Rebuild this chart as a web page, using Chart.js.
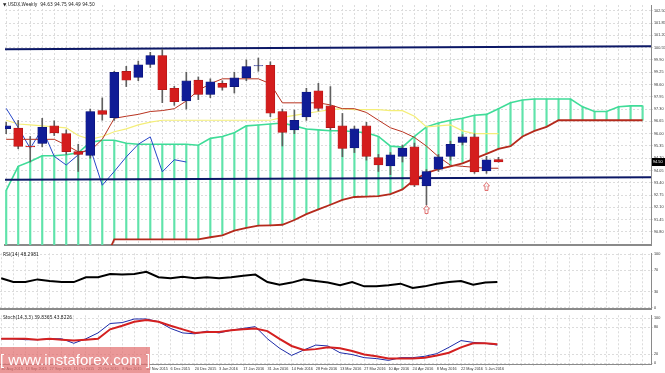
<!DOCTYPE html>
<html>
<head>
<meta charset="utf-8">
<script src="https://cdn.jsdelivr.net/npm/chart.js@4.4.1/dist/chart.umd.min.js"></script>
<style>
  body { margin: 0; background: #fff; width: 665px; height: 373px; overflow: hidden; position: relative; }
  .pane { position: absolute; left: 0; width: 665px; }
  .lbl { position: absolute; left: 3px; font: 8px "DejaVu Sans", sans-serif; color: #222; white-space: nowrap;
         transform: scale(0.55); transform-origin: 0 0; }
  #wm { position: absolute; left: 0; top: 347px; width: 150px; height: 26px; background: rgba(226, 112, 112, 0.72);
        color: #fff; font: 15px "Liberation Sans", sans-serif; line-height: 26px; text-align: center; white-space: nowrap; }
</style>
</head>
<body>
<div class="pane" style="top:0;height:250px"><canvas id="main" width="665" height="250"></canvas></div>
<div class="pane" style="top:250px;height:62px"><canvas id="rsi" width="665" height="62"></canvas></div>
<div class="pane" style="top:312px;height:61px"><canvas id="stoch" width="665" height="61"></canvas></div>
<div class="lbl" style="top:2px">▼ USDX,Weekly&nbsp; 94.63 94.75 94.49 94.50</div>
<div class="lbl" style="top:252px">RSI(14) 48.2981</div>
<div class="lbl" style="top:315px">Stoch(14,3,3) 39.8365 43.8226</div>
<div id="wm">[ www.instaforex.com ]</div>
<script>
// weekly bars, index 0 = week of 30 Aug 2015
const opens  = [96.26, 96.29, 95.33, 95.48, 96.41, 96.00, 95.05, 94.85, 97.22, 96.85, 99.29, 98.98, 99.66, 100.13,
                98.40, 97.73, 98.83, 98.07, 98.66, 98.49, 98.95, 99.58, 99.62, 97.17, 96.20, 96.88, 98.27, 97.47,
                96.41, 95.24, 96.41, 94.73, 94.29, 94.80, 95.30, 93.24, 94.12, 94.80, 95.53, 95.83, 94.03, 94.63];
const highs  = [96.60, 96.70, 95.85, 96.81, 96.68, 96.20, 95.44, 97.30, 97.89, 99.30, 99.56, 99.84, 100.30, 100.47,
                98.50, 99.25, 99.00, 98.90, 98.80, 99.25, 99.90, 100.00, 99.80, 97.30, 97.25, 98.40, 98.66, 98.49,
                97.07, 96.40, 96.60, 94.90, 95.00, 95.40, 95.50, 94.10, 94.90, 95.60, 95.95, 96.00, 94.80, 94.75];
const lows   = [96.00, 95.20, 94.50, 95.30, 95.90, 94.90, 94.00, 94.70, 96.71, 96.70, 98.49, 98.80, 99.50, 97.64,
                97.50, 97.30, 97.80, 97.90, 98.30, 98.15, 98.80, 99.30, 96.90, 95.35, 96.00, 96.70, 97.20, 96.20,
                94.78, 95.00, 94.60, 94.00, 93.83, 94.50, 93.20, 92.23, 94.00, 94.60, 95.40, 93.90, 93.90, 94.49];
const closes = [96.42, 95.33, 95.30, 96.34, 96.04, 95.05, 94.90, 97.17, 97.02, 99.25, 98.83, 99.64, 100.13, 98.32,
                97.69, 98.79, 98.07, 98.74, 98.45, 98.95, 99.55, 99.60, 97.08, 96.07, 96.71, 98.20, 97.34, 96.32,
                95.22, 96.25, 94.80, 94.34, 94.88, 95.24, 93.27, 94.00, 94.77, 95.44, 95.83, 93.98, 94.62, 94.50];

// ichimoku lines
const tenkan = [95.70, 95.70, 95.70, 95.70, 95.70, 95.39, 95.04, 95.09, 95.70, 96.81, 96.92, 97.02, 97.17, 97.22,
                97.32, 97.73, 98.29, 98.64, 98.90, 98.90, 98.90, 98.90, 98.64, 97.63, 97.63, 97.63, 97.63, 97.52,
                97.32, 97.32, 97.12, 96.71, 96.31, 96.10, 95.80, 95.34, 94.78, 94.33, 94.27, 94.22, 94.17, 94.17];
const kijun  = [96.71, 96.51, 96.46, 96.41, 96.36, 96.31, 95.90, 95.70, 95.85, 96.10, 96.25, 96.46, 96.61, 96.71,
                96.71, 96.71, 96.71, 96.71, 96.71, 96.71, 96.71, 96.71, 96.71, 96.86, 96.97, 97.07, 97.17, 97.27,
                97.32, 97.27, 97.27, 97.27, 97.22, 97.22, 96.92, 96.36, 96.41, 96.46, 96.15, 96.00, 96.00, 96.00];
const senkouA = [93.00, 94.27, 94.53, 94.83, 94.83, 94.88, 94.99, 95.54, 95.65, 95.65, 95.49, 95.44, 95.44, 95.44,
                 95.44, 95.44, 95.39, 95.75, 95.85, 96.05, 96.41, 96.46, 96.51, 96.56, 96.41, 96.25, 96.20, 96.15,
                 96.15, 96.10, 96.05, 95.85, 95.34, 95.29, 95.85, 96.36, 96.56, 96.71, 96.81, 96.97, 97.02, 97.32,
                 97.63, 97.78, 97.83, 97.83, 97.83, 97.83, 97.42, 97.17, 97.17, 97.42, 97.47, 97.47];
const senkouB = [89.50, 89.50, 89.50, 89.50, 89.50, 89.50, 89.50, 89.50, 89.00, 90.41, 90.41, 90.41, 90.41, 90.41,
                 90.41, 90.41, 90.41, 90.52, 90.62, 90.87, 91.02, 91.13, 91.15, 91.18, 91.43, 91.74, 91.99, 92.24,
                 92.50, 92.65, 92.67, 92.70, 92.80, 93.05, 93.56, 93.92, 94.12, 94.27, 94.43, 94.68, 94.93, 95.19,
                 95.34, 95.85, 96.15, 96.36, 96.71, 96.71, 96.71, 96.71, 96.71, 96.71, 96.71, 96.71];

// trend lines (value at left edge, value at right edge)
const upperLine = [100.47, 100.62];
const lowerLine = [93.56, 93.69];
// up arrows
const arrowBars = [35, 40];
const arrowPrices = [91.99, 93.21];

const rsi = [55, 48, 48, 53, 50, 48, 48, 57, 57, 63, 62, 63, 67, 57, 55, 58, 55, 57, 55, 57, 60, 62, 48, 43, 47,
             53, 50, 47, 42, 48, 40, 40, 42, 45, 37, 40, 45, 48, 50, 43, 47, 48];
const stochK = [54, 54, 52, 52, 54, 54, 44, 54, 67, 88, 90, 98, 98, 92, 77, 67, 65, 71, 67, 73, 77, 81, 54, 33, 17,
                29, 40, 38, 23, 19, 12, 10, 6, 12, 12, 15, 21, 35, 50, 46, 44, 40];
const stochD = [54, 54, 54, 52, 54, 52, 50, 52, 54, 75, 83, 92, 96, 92, 83, 75, 67, 69, 69, 73, 75, 77, 71, 54, 38,
                29, 31, 35, 33, 27, 19, 15, 10, 10, 10, 12, 17, 23, 35, 44, 44, 42];

const priceTicks = [102.50, 101.85, 101.20, 100.55, 99.90, 99.25, 98.60, 97.95, 97.30, 96.65, 96.00, 95.35, 94.70,
                    94.05, 93.40, 92.75, 92.10, 91.45, 90.80];
const rsiTicks = [100, 70, 30, 0];
const stochTicks = [100, 80, 20, 0];
const dateLabels = ['30 Aug 2015', '13 Sep 2015', '27 Sep 2015', '11 Oct 2015', '25 Oct 2015', '8 Nov 2015',
                    '22 Nov 2015', '6 Dec 2015', '20 Dec 2015', '3 Jan 2016', '17 Jan 2016', '31 Jan 2016',
                    '14 Feb 2016', '28 Feb 2016', '13 Mar 2016', '27 Mar 2016', '10 Apr 2016', '24 Apr 2016',
                    '8 May 2016', '22 May 2016', '5 Jun 2016'];

const xMin = -0.1, xMax = 53.7;
// one grid column per weekly bar, a date label every second bar
const gridBars = [];
for (let i = 0; i <= 53; i++) gridBars.push(i);

const pts = (arr, shift) => arr.map((v, i) => ({ x: i + (shift || 0), y: v }));
const tiny = { size: 3.8, family: 'Liberation Sans' };

function xAxis(showLabels) {
    return {
        type: 'linear', min: xMin, max: xMax, offset: false,
        afterBuildTicks: s => { s.ticks = gridBars.map(v => ({ value: v })); },
        afterFit: s => { s.height = showLabels ? 9 : 0; },
        grid: { color: '#dcdcdc', drawTicks: showLabels, tickLength: 2, offset: false },
        border: { display: true, color: '#8a8a8a', width: showLabels ? 1 : 2, dash: [2, 2] },
        ticks: {
            display: showLabels, align: 'start', maxRotation: 0, autoSkip: false, padding: 1,
            font: tiny, color: '#333',
            callback: v => (v % 2 === 0 && dateLabels[v / 2]) || ''
        }
    };
}

function yAxis(min, max, ticks, fmt) {
    return {
        position: 'right', min: min, max: max,
        afterBuildTicks: s => { s.ticks = ticks.map(v => ({ value: v })); },
        afterFit: s => { s.width = 14; },
        grid: { color: '#dcdcdc', drawTicks: true, tickLength: 2 },
        border: { display: true, color: '#8a8a8a', dash: [2, 2] },
        ticks: { font: tiny, color: '#333', padding: 1, callback: fmt }
    };
}

const baseOpts = {
    responsive: false, animation: false, events: [], devicePixelRatio: 1,
    layout: { padding: 0 },
    plugins: { legend: { display: false }, tooltip: { enabled: false } }
};

// up arrow marker
const arrowImg = document.createElement('canvas');
arrowImg.width = 7; arrowImg.height = 9;
(function () {
    const c = arrowImg.getContext('2d');
    c.strokeStyle = '#e07070'; c.lineWidth = 1;
    c.beginPath();
    c.moveTo(3.5, 0.5); c.lineTo(6.5, 4); c.lineTo(5, 4); c.lineTo(5, 8.5);
    c.lineTo(2, 8.5); c.lineTo(2, 4); c.lineTo(0.5, 4); c.closePath();
    c.stroke();
})();

// current price box on the right axis
const priceBox = {
    id: 'priceBox',
    afterDraw(chart) {
        const last = closes[closes.length - 1];
        const y = chart.scales.y.getPixelForValue(last);
        const ctx = chart.ctx;
        ctx.save();
        ctx.fillStyle = '#000';
        ctx.fillRect(chart.chartArea.right + 1, y - 4, 13, 8);
        ctx.fillStyle = '#fff';
        ctx.font = '3.8px Liberation Sans';
        ctx.textBaseline = 'middle';
        ctx.fillText(last.toFixed(2), chart.chartArea.right + 2, y);
        ctx.restore();
    }
};

const bull = closes.map((c, i) => c >= opens[i]);
const hatch = senkouA.map((a, i) => ({ x: i, y: [a, Math.max(senkouB[i], 88)] }));

new Chart(document.getElementById('main'), {
    type: 'bar',
    data: {
        datasets: [
            { type: 'bar', data: hatch, backgroundColor: '#5fe3aa', barThickness: 1.5, grouped: false, order: 10 },
            { type: 'line', data: pts(senkouA), borderColor: '#3fdc98', borderWidth: 1.6, pointRadius: 0, order: 9 },
            { type: 'line', data: pts(senkouB), borderColor: '#b52a1c', borderWidth: 1.8, pointRadius: 0, order: 9 },
            { type: 'line', data: pts(kijun), borderColor: '#f4ee78', borderWidth: 1.2, pointRadius: 0, order: 6 },
            { type: 'line', data: pts(tenkan), borderColor: '#b8321f', borderWidth: 1, pointRadius: 0, order: 5 },
            { type: 'line', data: pts(closes.slice(26)), borderColor: '#2747c8', borderWidth: 1, pointRadius: 0, order: 5 },
            { type: 'line', data: [{ x: xMin, y: upperLine[0] }, { x: xMax, y: upperLine[1] }],
              borderColor: '#0c1866', borderWidth: 2, pointRadius: 0, order: 4 },
            { type: 'line', data: [{ x: xMin, y: lowerLine[0] }, { x: xMax, y: lowerLine[1] }],
              borderColor: '#0c1866', borderWidth: 2, pointRadius: 0, order: 4 },
            { type: 'bar', data: lows.map((l, i) => ({ x: i, y: [l, highs[i]] })), backgroundColor: '#606060',
              barThickness: 1, grouped: false, order: 2 },
            { type: 'bar', data: opens.map((o, i) => ({ x: i, y: [o, closes[i]] })),
              backgroundColor: bull.map(b => b ? '#101c96' : '#d41d1d'),
              borderColor: bull.map(b => b ? '#0a1270' : '#a81414'), borderWidth: 0.6, borderSkipped: false,
              barThickness: 9, grouped: false, order: 1 },
            { type: 'scatter', data: arrowBars.map((b, i) => ({ x: b, y: arrowPrices[i] })),
              pointStyle: arrowImg, pointRadius: 4, order: 0 }
        ]
    },
    options: Object.assign({}, baseOpts, {
        scales: { x: xAxis(false), y: yAxis(90.11, 102.805, priceTicks, v => v.toFixed(2)) }
    }),
    plugins: [priceBox]
});

new Chart(document.getElementById('rsi'), {
    type: 'line',
    data: { datasets: [{ data: pts(rsi), borderColor: '#000', borderWidth: 2, pointRadius: 0 }] },
    options: Object.assign({}, baseOpts, {
        scales: { x: xAxis(false), y: yAxis(-1.67, 101.67, rsiTicks, v => String(v)) }
    })
});

new Chart(document.getElementById('stoch'), {
    type: 'line',
    data: {
        datasets: [
            { data: pts(stochD), borderColor: '#d42020', borderWidth: 2, pointRadius: 0 },
            { data: pts(stochK), borderColor: '#1c2aa8', borderWidth: 1, pointRadius: 0 }
        ]
    },
    options: Object.assign({}, baseOpts, {
        scales: { x: xAxis(true), y: yAxis(-2.08, 106.25, stochTicks, v => String(v)) }
    })
});
</script>
</body>
</html>
